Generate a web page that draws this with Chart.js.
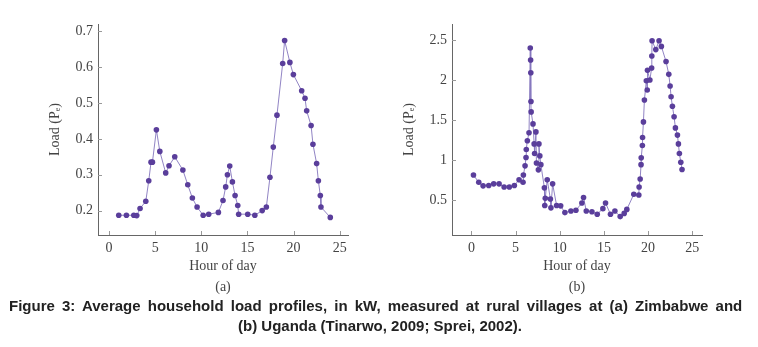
<!DOCTYPE html>
<html>
<head>
<meta charset="utf-8">
<script src="https://cdn.jsdelivr.net/npm/chart.js@4"></script>
<style>
  body { margin: 0; background: #fff; width: 758px; height: 347px; position: relative; overflow: hidden; }
  #boxA { position: absolute; left: 0; top: 0; width: 380px; height: 300px; }
  #boxB { position: absolute; left: 380px; top: 0; width: 378px; height: 300px; }
  .cap { position: absolute; font-family: 'Liberation Sans', Arial, sans-serif; font-weight: bold; font-size: 15px; color: #222; white-space: nowrap; }
</style>
</head>
<body>
<div id="boxA"><canvas id="chartA"></canvas></div>
<div id="boxB"><canvas id="chartB"></canvas></div>
<div class="cap" style="left:9px; top:297px; word-spacing:3px;">Figure 3: Average household load profiles, in kW, measured at rural villages at (a) Zimbabwe and</div>
<div class="cap" style="left:238px; top:317px;">(b) Uganda (Tinarwo, 2009; Sprei, 2002).</div>
<script>
// (a) Zimbabwe
const hoursA = [1.05,1.88,2.68,3.0,3.36,3.98,4.3,4.55,4.7,5.13,5.5,6.14,6.5,7.12,8.0,8.53,9.03,9.54,10.2,10.8,11.85,12.35,12.64,12.83,13.08,13.37,13.66,13.95,14.05,15.03,15.8,16.6,17.05,17.44,17.8,18.2,18.82,19.03,19.6,19.98,20.88,21.24,21.42,21.9,22.1,22.5,22.69,22.9,22.97,23.98];
const loadA = [0.187,0.187,0.187,0.186,0.206,0.226,0.283,0.335,0.335,0.425,0.365,0.305,0.325,0.35,0.313,0.272,0.235,0.21,0.187,0.19,0.195,0.228,0.266,0.30,0.324,0.28,0.242,0.214,0.19,0.19,0.187,0.2,0.21,0.293,0.377,0.466,0.61,0.674,0.613,0.579,0.534,0.513,0.478,0.437,0.385,0.331,0.283,0.242,0.21,0.181];

// (b) Uganda
const hoursB = [0.23,0.83,1.32,1.96,2.52,3.13,3.7,4.29,4.86,5.39,5.84,5.88,6.07,6.18,6.21,6.33,6.52,6.66,6.7,6.72,6.74,6.76,6.97,7.1,7.15,7.3,7.36,7.58,7.64,7.74,7.86,8.26,8.3,8.36,8.58,8.94,9.0,9.19,9.64,10.1,10.58,11.26,11.83,12.5,12.69,13.0,13.64,14.24,14.88,15.18,15.74,16.24,16.84,17.29,17.59,18.38,18.95,18.98,19.1,19.2,19.22,19.35,19.37,19.47,19.58,19.8,19.9,19.93,20.2,20.4,20.42,20.45,20.87,21.24,21.5,22.03,22.34,22.49,22.6,22.75,22.94,23.09,23.32,23.43,23.54,23.7,23.84];
const loadB = [0.81,0.72,0.675,0.68,0.70,0.70,0.66,0.66,0.68,0.75,0.72,0.81,0.925,1.03,1.13,1.24,1.34,2.4,2.25,2.09,1.73,1.6,1.45,1.2,1.08,1.35,0.96,0.875,1.2,1.05,0.94,0.65,0.43,0.52,0.75,0.51,0.40,0.70,0.43,0.425,0.34,0.36,0.37,0.46,0.53,0.36,0.35,0.32,0.39,0.46,0.32,0.36,0.29,0.33,0.38,0.57,0.56,0.66,0.76,0.94,1.025,1.18,1.28,1.475,1.75,1.99,1.875,2.12,2.0,2.15,2.3,2.49,2.38,2.49,2.42,2.23,2.07,1.925,1.79,1.67,1.54,1.4,1.31,1.2,1.08,0.97,0.88];

const xTicks = [0, 5, 10, 15, 20, 25];
const yTicksA = [0.2, 0.3, 0.4, 0.5, 0.6, 0.7];
const yTicksB = [0.5, 1, 1.5, 2, 2.5];

const serif = "'Liberation Serif', 'DejaVu Serif', serif";

// small tick marks pointing into the plot, like pgfplots
const innerTicks = {
  id: 'innerTicks',
  afterDraw(chart) {
    const ctx = chart.ctx;
    const x = chart.scales.x, y = chart.scales.y;
    ctx.save();
    ctx.strokeStyle = '#999';
    ctx.lineWidth = 1;
    ctx.beginPath();
    x.ticks.forEach(t => {
      const px = Math.round(x.getPixelForValue(t.value)) + 0.5;
      ctx.moveTo(px, y.bottom);
      ctx.lineTo(px, y.bottom - 4);
    });
    y.ticks.forEach(t => {
      const py = Math.round(y.getPixelForValue(t.value)) + 0.5;
      ctx.moveTo(x.left, py);
      ctx.lineTo(x.left + 4, py);
    });
    ctx.stroke();
    ctx.restore();
  }
};

function makeChart(id, xs, ys, cfg) {
  const ctx = document.getElementById(id).getContext('2d');
  return new Chart(ctx, {
    type: 'scatter',
    data: {
      datasets: [{
        data: xs.map((h, i) => ({ x: h, y: ys[i] })),
        showLine: true,
        borderColor: '#8576bd',
        borderWidth: 0.9,
        backgroundColor: '#5a3e9b',
        pointRadius: 2.8,
        pointBorderWidth: 0
      }]
    },
    options: {
      responsive: true,
      maintainAspectRatio: false,
      animation: false,
      layout: { padding: { top: 24, right: cfg.padRight, left: 0, bottom: 0 } },
      plugins: { legend: { display: false }, tooltip: { enabled: false } },
      scales: {
        x: {
          type: 'linear',
          min: cfg.xMin,
          max: cfg.xMax,
          afterBuildTicks: s => { s.ticks = xTicks.map(v => ({ value: v })); },
          afterFit: s => { s.height = 65; },
          grid: { display: false, drawTicks: false },
          border: { color: '#666', width: 1 },
          ticks: { color: '#444', font: { family: serif, size: 14 }, padding: 5, maxRotation: 0 },
          title: {
            display: true,
            text: ['Hour of day', cfg.label],
            color: '#444',
            font: { family: serif, size: 14, lineHeight: 1.45 },
            padding: { top: 0, bottom: 3 }
          }
        },
        y: {
          min: cfg.yMin,
          max: cfg.yMax,
          afterBuildTicks: s => { s.ticks = cfg.yTicks.map(v => ({ value: v })); },
          afterFit: s => { s.width = cfg.yWidth; },
          grid: { display: false, drawTicks: false },
          border: { color: '#666', width: 1 },
          ticks: { color: '#444', font: { family: serif, size: 14 }, padding: 5, callback: v => String(v) },
          title: {
            display: true,
            text: 'Load (P\u2091)',
            color: '#444',
            font: { family: serif, size: 14, lineHeight: 1.2 },
            padding: { top: cfg.titleOff, bottom: 0 }
          }
        }
      }
    },
    plugins: [innerTicks]
  });
}

makeChart('chartA', hoursA, loadA, {
  xMin: -1.2, xMax: 25.9, yMin: 0.132, yMax: 0.72,
  yTicks: yTicksA, yWidth: 98, padRight: 32, titleOff: 47, label: '(a)'
});

makeChart('chartB', hoursB, loadB, {
  xMin: -2.2, xMax: 26.1, yMin: 0.06, yMax: 2.7,
  yTicks: yTicksB, yWidth: 72, padRight: 56, titleOff: 21, label: '(b)'
});
</script>
</body>
</html>
